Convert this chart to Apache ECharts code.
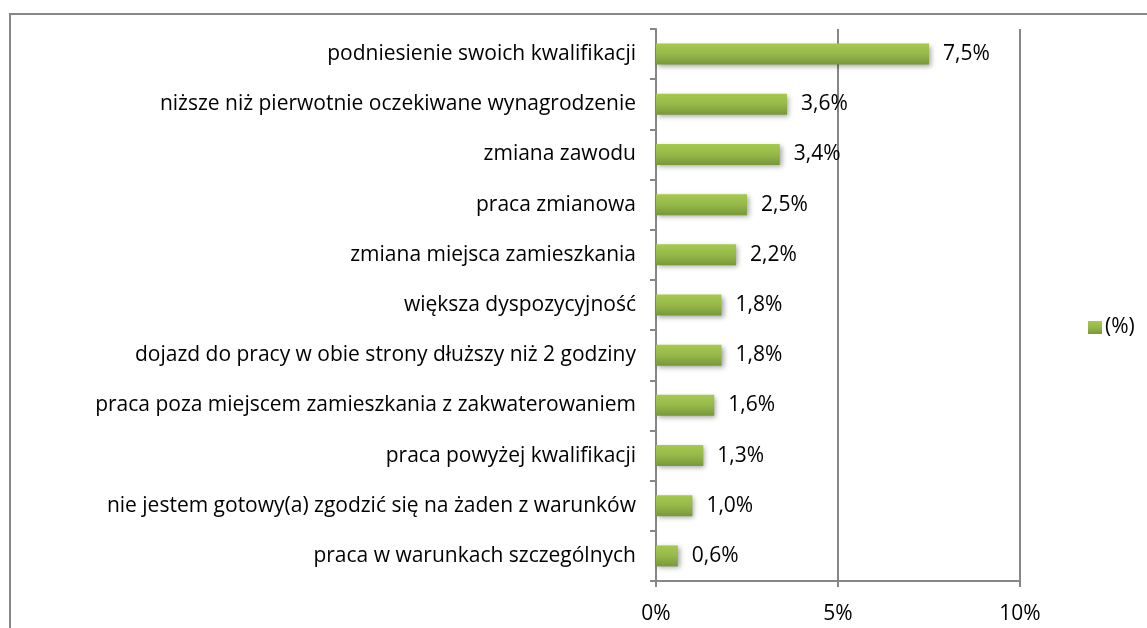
<!DOCTYPE html>
<html>
<head>
<meta charset="utf-8">
<script src="https://cdn.jsdelivr.net/npm/echarts@6/dist/echarts.min.js"></script>
<style>
  html, body { margin: 0; padding: 0; background: #fff; }
  #chart { width: 1147px; height: 628px; }
  #frame { position: absolute; left: 9px; top: 13px; right: -4px; bottom: -4px;
           border: 2px solid #878787; pointer-events: none; }
</style>
</head>
<body>
<div id="chart"></div>
<div id="frame"></div>
<script>
// Warunki akceptowane przez bezrobotnych (%)
const categories = [
  'podniesienie swoich kwalifikacji',
  'niższe niż pierwotnie oczekiwane wynagrodzenie',
  'zmiana zawodu',
  'praca zmianowa',
  'zmiana miejsca zamieszkania',
  'większa dyspozycyjność',
  'dojazd do pracy w obie strony dłuższy niż 2 godziny',
  'praca poza miejscem zamieszkania z zakwaterowaniem',
  'praca powyżej kwalifikacji',
  'nie jestem gotowy(a) zgodzić się na żaden z warunków',
  'praca w warunkach szczególnych'
];
const values = [7.5, 3.6, 3.4, 2.5, 2.2, 1.8, 1.8, 1.6, 1.3, 1.0, 0.6];
const seriesName = '(%)';
const xTicks = [0, 5, 10];

const FONT = '"Open Sans", "Noto Sans", sans-serif';
const FONT_SIZE = 21;
const AXIS_GREY = '#868686';

const chart = echarts.init(document.getElementById('chart'), null, { renderer: 'canvas' });

chart.setOption({
  animation: false,
  backgroundColor: '#ffffff',
  textStyle: { fontFamily: FONT },
  grid: { left: 656, right: 127, top: 29, bottom: 47, containLabel: false },
  legend: {
    left: 1083, top: 312,
    itemWidth: 14, itemHeight: 13, itemGap: 4,
    icon: 'rect',
    textStyle: { fontFamily: FONT, fontSize: FONT_SIZE, color: '#000', padding: [0, 0, 0, -2] },
    data: [seriesName]
  },
  xAxis: {
    type: 'value',
    min: xTicks[0], max: xTicks[xTicks.length - 1], interval: 5,
    axisLine: { show: true, lineStyle: { color: AXIS_GREY, width: 2 } },
    axisTick: { show: true, length: 6, lineStyle: { color: AXIS_GREY, width: 2 } },
    splitLine: { show: true, lineStyle: { color: AXIS_GREY, width: 2 } },
    axisLabel: {
      margin: 23, fontFamily: FONT, fontSize: FONT_SIZE, color: '#000',
      formatter: v => v + '%'
    }
  },
  yAxis: {
    type: 'category',
    data: categories,
    inverse: true,
    axisLine: { show: true, lineStyle: { color: AXIS_GREY, width: 2 } },
    axisTick: { show: true, inside: false, length: 6, lineStyle: { color: AXIS_GREY, width: 2 } },
    axisLabel: { margin: 20, fontFamily: FONT, fontSize: FONT_SIZE, color: '#000' }
  },
  series: [{
    name: seriesName,
    type: 'bar',
    data: values,
    barWidth: 21,
    itemStyle: {
      color: new echarts.graphic.LinearGradient(0, 0, 0, 1, [
        { offset: 0, color: '#a6c94f' },
        { offset: 0.5, color: '#96b849' },
        { offset: 1, color: '#779838' }
      ]),
      shadowColor: 'rgba(0,0,0,0.35)',
      shadowBlur: 5,
      shadowOffsetX: 2,
      shadowOffsetY: 2
    },
    label: {
      show: true, position: 'right', distance: 14,
      fontFamily: FONT, fontSize: FONT_SIZE, color: '#000',
      formatter: p => p.value.toFixed(1).replace('.', ',') + '%'
    }
  }]
});
</script>
</body>
</html>
